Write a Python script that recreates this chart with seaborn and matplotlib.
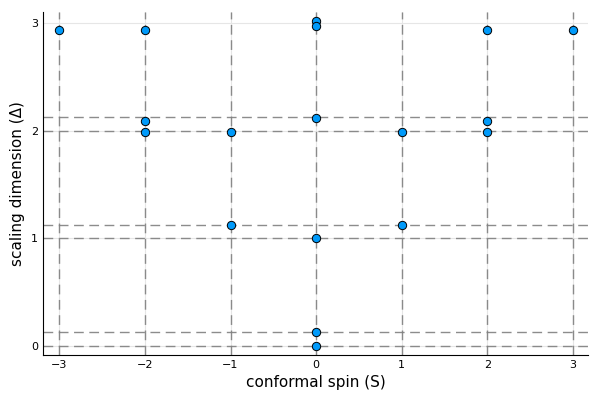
import matplotlib
matplotlib.use("Agg")
import matplotlib.pyplot as plt
import seaborn as sns
import pandas as pd

spins = [-3, -2, -2, -2, -1, -1, 0, 0, 0, 0, 0, 0, 1, 1, 2, 2, 2, 3]
dims = [2.935, 2.935, 2.09, 1.99, 1.99, 1.123, 3.02, 2.975, 2.115, 1.0, 0.125, 0.0,
        1.99, 1.123, 2.935, 2.09, 1.99, 2.935]
ref_dims = [0, 0.125, 1, 1.125, 2, 2.125]
ref_spins = [-3, -2, -1, 0, 1, 2, 3]
xticks = [-3, -2, -1, 0, 1, 2, 3]
yticks = [0, 1, 2, 3]

df = pd.DataFrame({"S": spins, "D": dims})

sns.set_style("white")
plt.rcParams['font.family'] = ['DejaVu Sans']
plt.rcParams['text.color'] = 'black'
plt.rcParams['axes.labelcolor'] = 'black'
plt.rcParams['xtick.color'] = 'black'
plt.rcParams['ytick.color'] = 'black'
fig = plt.figure(figsize=(6, 4), dpi=100)
ax = fig.add_axes([0.0717, 0.1125, 0.9083, 0.8575])

for v in xticks:
    ax.axvline(v, color="#e6e6e6", lw=0.8, zorder=0)
for v in yticks:
    ax.axhline(v, color="#e6e6e6", lw=0.8, zorder=0)
for v in ref_dims:
    ax.axhline(v, color="#808080", lw=1.0, ls=(0, (7, 4)), alpha=0.9, zorder=1)
for v in ref_spins:
    ax.axvline(v, color="#808080", lw=1.0, ls=(0, (7, 4)), alpha=0.9, zorder=1)

sns.scatterplot(data=df, x="S", y="D", ax=ax, color="#009AFA", edgecolor="black",
                linewidth=0.7, s=36, zorder=3, legend=False)

ax.set_xlim(-3.19, 3.175)
ax.set_ylim(-0.085, 3.105)
ax.set_xticks(xticks)
ax.set_yticks(yticks)
ax.set_xticklabels([f"{t}".replace("-", "\u2212") for t in xticks])
ax.set_xlabel("conformal spin (S)", fontsize=11, color="black")
ax.set_ylabel("scaling dimension (\u0394)", fontsize=11, color="black")
ax.tick_params(axis="both", labelsize=8, direction="in", length=3, color="black",
               labelcolor="black", width=0.6)
for s in ["top", "right"]:
    ax.spines[s].set_visible(False)
for s in ["left", "bottom"]:
    ax.spines[s].set_color("black")
    ax.spines[s].set_linewidth(0.8)

fig.savefig("out.png", dpi=100)
